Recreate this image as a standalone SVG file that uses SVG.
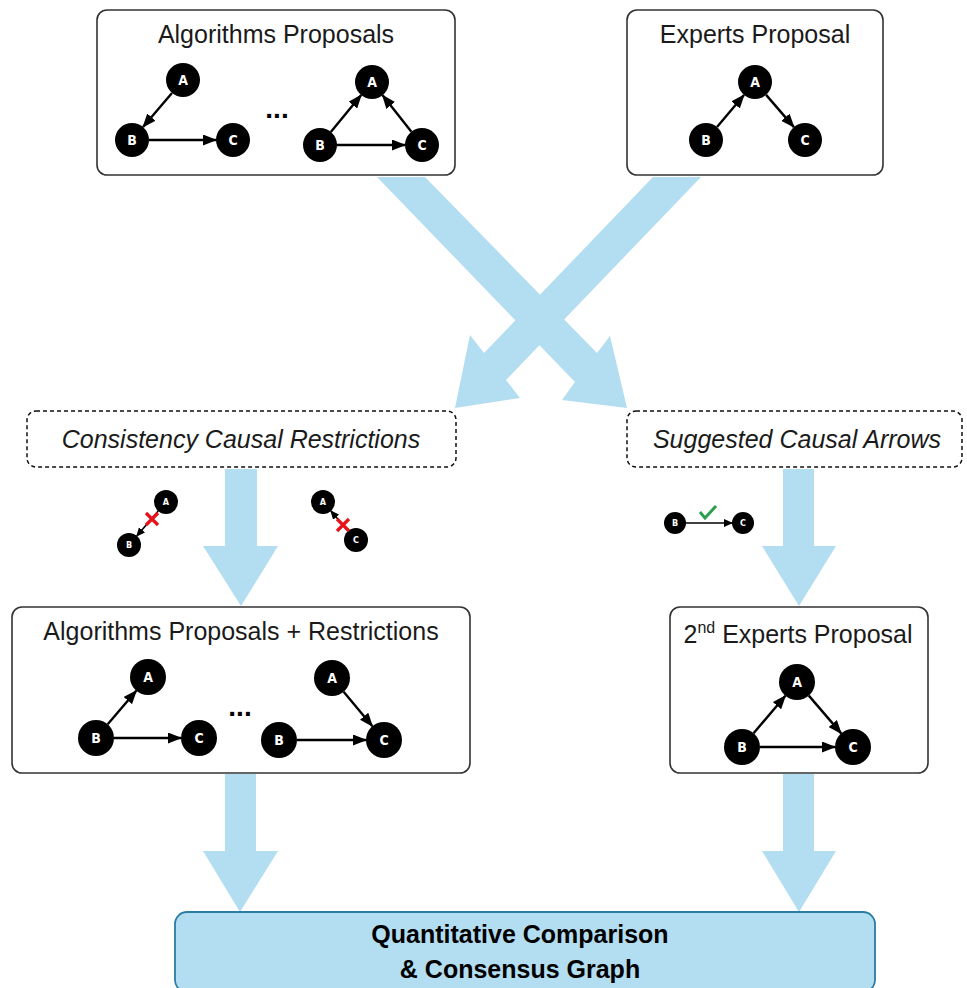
<svg xmlns="http://www.w3.org/2000/svg" width="967" height="988" viewBox="0 0 967 988">
<style>
.box{fill:#fff;stroke:#333;stroke-width:1.6}
.dbox{fill:#fff;stroke:#111;stroke-width:1.5;stroke-dasharray:4 3}
.title{font-family:"Liberation Sans",Arial,sans-serif;font-size:25px;fill:#1a1a1a;text-anchor:middle}
.ital{font-family:"Liberation Sans",Arial,sans-serif;font-size:25px;font-style:italic;fill:#1a1a1a;text-anchor:middle}
.bold{font-family:"Liberation Sans",Arial,sans-serif;font-size:25px;font-weight:bold;fill:#000;text-anchor:middle}
.n{fill:#000}
.nl{font-family:"Liberation Sans Narrow","DejaVu Sans Condensed","Liberation Sans",sans-serif;font-weight:bold;font-size:14px;fill:#fff;text-anchor:middle;dominant-baseline:central}
.ns{font-family:"Liberation Sans Narrow","DejaVu Sans Condensed","Liberation Sans",sans-serif;font-weight:bold;font-size:9px;fill:#fff;text-anchor:middle;dominant-baseline:central}
.e{stroke:#000;stroke-width:2.4;fill:none;marker-end:url(#ah)}
.es{stroke:#000;stroke-width:1.6;fill:none;marker-end:url(#ahs)}
.big{fill:#b3ddf0}
.dots{font-family:"Liberation Sans",Arial,sans-serif;font-size:28px;font-weight:bold;fill:#000;text-anchor:middle}
</style>
<defs>
<marker id="ah" markerUnits="userSpaceOnUse" markerWidth="14" markerHeight="11" refX="13" refY="5.5" orient="auto">
<path d="M0,0 L14,5.5 L0,11 z" fill="#000"/>
</marker>
<marker id="ahs" markerUnits="userSpaceOnUse" markerWidth="9" markerHeight="8" refX="8" refY="4" orient="auto">
<path d="M0,0 L9,4 L0,8 z" fill="#000"/>
</marker>
</defs>

<g id="connectors">
<polygon class="big" points="377,177 425,177 597,353 610,336 627,408 562,400 575,382"/>
<polygon class="big" points="653,177 701,177 506,380 520,398 455,408 470,335 484,353"/>
<polygon class="big" points="225,469 257,469 257,546 278,546 241,606 203,546 225,546"/>
<polygon class="big" points="783,469 814,469 814,546 836,546 799,606 762,546 783,546"/>
<polygon class="big" points="225,774 256,774 256,851 278,851 240,912 203,851 225,851"/>
<polygon class="big" points="783,774 814,774 814,851 836,851 799,912 762,851 783,851"/>
</g>

<g id="algorithms-proposals">
<rect class="box" x="97" y="10" width="358" height="165" rx="10"/>
<text class="title" x="276" y="43">Algorithms Proposals</text>
<line class="e" x1="172" y1="93" x2="143" y2="127"/>
<line class="e" x1="149" y1="140" x2="216" y2="140"/>
<circle class="n" cx="183" cy="80" r="17"/><text class="nl" x="183" y="80">A</text>
<circle class="n" cx="132" cy="140" r="17"/><text class="nl" x="132" y="140">B</text>
<circle class="n" cx="233" cy="140" r="17"/><text class="nl" x="233" y="140">C</text>
<text class="dots" x="277" y="118">...</text>
<line class="e" x1="330.8" y1="131.9" x2="361.2" y2="95.1"/>
<line class="e" x1="411.4" y1="131.7" x2="382.6" y2="95.3"/>
<line class="e" x1="337" y1="145" x2="405" y2="145"/>
<circle class="n" cx="372" cy="82" r="17"/><text class="nl" x="372" y="82">A</text>
<circle class="n" cx="320" cy="145" r="17"/><text class="nl" x="320" y="145">B</text>
<circle class="n" cx="422" cy="145" r="17"/><text class="nl" x="422" y="145">C</text>
</g>

<g id="experts-proposal">
<rect class="box" x="627" y="10" width="256" height="165" rx="10"/>
<text class="title" x="755" y="43">Experts Proposal</text>
<line class="e" x1="717" y1="127" x2="744" y2="95"/>
<line class="e" x1="766.1" y1="94.9" x2="793.9" y2="127.1"/>
<circle class="n" cx="755" cy="82" r="17"/><text class="nl" x="755" y="82">A</text>
<circle class="n" cx="706" cy="140" r="17"/><text class="nl" x="706" y="140">B</text>
<circle class="n" cx="805" cy="140" r="17"/><text class="nl" x="805" y="140">C</text>
</g>

<g id="consistency-causal-restrictions">
<rect class="dbox" x="27" y="411" width="429" height="56" rx="9"/>
<text class="ital" x="241" y="448">Consistency Causal Restrictions</text>
<line class="es" x1="158.2" y1="511.1" x2="136.8" y2="535.9"/>
<circle class="n" cx="166" cy="502" r="12"/><text class="ns" x="166" y="502">A</text>
<circle class="n" cx="129" cy="545" r="12"/><text class="ns" x="129" y="545">B</text>
<path d="M146,513 L158,525 M158,513 L146,525" stroke="#e8121b" stroke-width="3.2" fill="none"/>
<line class="es" x1="348.1" y1="530.9" x2="330.9" y2="511.1"/>
<circle class="n" cx="323" cy="502" r="12"/><text class="ns" x="323" y="502">A</text>
<circle class="n" cx="356" cy="540" r="12"/><text class="ns" x="356" y="540">C</text>
<path d="M337,519 L349,531 M349,519 L337,531" stroke="#e8121b" stroke-width="3.2" fill="none"/>
</g>

<g id="suggested-causal-arrows">
<rect class="dbox" x="627" y="411" width="335" height="56" rx="9"/>
<text class="ital" x="797" y="448">Suggested Causal Arrows</text>
<line class="es" x1="686" y1="523" x2="732" y2="523"/>
<circle class="n" cx="675" cy="523" r="11"/><text class="ns" x="675" y="523">B</text>
<circle class="n" cx="743" cy="523" r="11"/><text class="ns" x="743" y="523">C</text>
<path d="M700,512 L705,518 L716,506" stroke="#2e9e4e" stroke-width="3" fill="none"/>
</g>

<g id="algorithms-proposals-restrictions">
<rect class="box" x="12" y="607" width="458" height="166" rx="10"/>
<text class="title" x="241" y="640">Algorithms Proposals + Restrictions</text>
<line class="e" x1="107.7" y1="724.3" x2="136.3" y2="690.7"/>
<line class="e" x1="114" y1="738" x2="181" y2="738"/>
<circle class="n" cx="148" cy="677" r="18"/><text class="nl" x="148" y="677">A</text>
<circle class="n" cx="96" cy="738" r="18"/><text class="nl" x="96" y="738">B</text>
<circle class="n" cx="199" cy="738" r="18"/><text class="nl" x="199" y="738">C</text>
<text class="dots" x="240" y="716">...</text>
<line class="e" x1="343.6" y1="691.8" x2="372.4" y2="726.2"/>
<line class="e" x1="297" y1="740" x2="366" y2="740"/>
<circle class="n" cx="332" cy="678" r="18"/><text class="nl" x="332" y="678">A</text>
<circle class="n" cx="279" cy="740" r="18"/><text class="nl" x="279" y="740">B</text>
<circle class="n" cx="384" cy="740" r="18"/><text class="nl" x="384" y="740">C</text>
</g>

<g id="second-experts-proposal">
<rect class="box" x="670" y="607" width="258" height="166" rx="10"/>
<text class="title" x="798" y="643">2<tspan font-size="16" dy="-10">nd</tspan><tspan dy="10"> Experts Proposal</tspan></text>
<line class="e" x1="753.6" y1="733.2" x2="785.4" y2="695.8"/>
<line class="e" x1="808.8" y1="695.6" x2="841.2" y2="733.4"/>
<line class="e" x1="760" y1="747" x2="835" y2="747"/>
<circle class="n" cx="797" cy="682" r="18"/><text class="nl" x="797" y="682">A</text>
<circle class="n" cx="742" cy="747" r="18"/><text class="nl" x="742" y="747">B</text>
<circle class="n" cx="853" cy="747" r="18"/><text class="nl" x="853" y="747">C</text>
</g>

<g id="consensus">
<rect x="175" y="912" width="700" height="80" rx="12" fill="#b3ddf0" stroke="#2a7ca3" stroke-width="1.8"/>
<text class="bold" x="520" y="943">Quantitative Comparison</text>
<text class="bold" x="520" y="978">&amp; Consensus Graph</text>
</g>
</svg>
